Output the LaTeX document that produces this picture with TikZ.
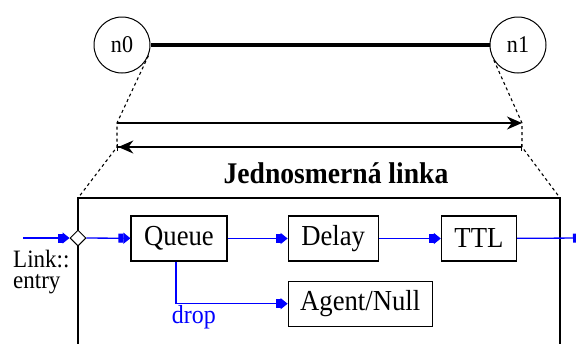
\documentclass[tikz,border=0pt]{standalone}
\usepackage{fontspec}
\setmainfont{Liberation Serif}[FakeStretch=0.92]
\usetikzlibrary{positioning,shapes.geometric,arrows.meta}
\tikzset{
  elem/.style={draw,line width=1.2pt,minimum height=45pt,inner sep=0pt,
    font=\fontsize{29}{29}\selectfont},
  flujo/.style={blue,line width=1.3pt,
    -{Square[length=5pt,width=9pt]Triangle[length=7pt,width=11pt]}},
  nodo/.style={circle,draw,line width=1pt,minimum size=56pt,inner sep=0pt,
    font=\fontsize{24}{24}\selectfont},
  guia/.style={dashed,line width=1.1pt}
}
\begin{document}
\begin{tikzpicture}[x=1pt,y=-1pt]
\useasboundingbox (0,0) rectangle (576,343);
% Nodos
\node[nodo] (n0) at (122,45) {n0};
\node[nodo] (n1) at (518,45) {n1};
\draw[line width=3.2pt] (n0) -- (n1);
% Ampliacion
\coordinate (a1) at (117,123);
\coordinate (b1) at (522,123);
\coordinate (a2) at (117,147);
\coordinate (b2) at (522,147);
\coordinate (c1) at (78,198);
\coordinate (c2) at (560,198);
\draw[guia] (n0.-22) -- (a1) -- (a2) -- (c1);
\draw[guia] (n1.-148) -- (b1) -- (b2) -- (c2);
\draw[line width=1.3pt,-{Stealth[length=15pt,width=13pt]}] (a1) -- (b1);
\draw[line width=1.3pt,{Bar[width=7pt]Stealth[length=15pt,width=13pt]}-{Bar[width=7pt]}]
  (a2) -- (b2);
\node[font=\fontsize{30}{30}\selectfont\bfseries,anchor=base] (titulo) at (336,183)
  {Jednosmerná linka};
% Caja
\draw[line width=1.5pt] (78,350) -- (c1) -- (c2) -- (560,350);
\node[diamond,draw,fill=white,line width=1pt,minimum width=16pt,minimum height=16pt,
  inner sep=0pt] (ent) at (78,238) {};
\node[align=left,anchor=north west,inner sep=0pt,font=\fontsize{25}{21}\selectfont]
  (etiq) at (13,250) {Link::\\entry};
\node[elem,minimum width=96pt] (queue) at (179,238.5) {Queue};
\node[elem,minimum width=90pt,right=60pt of queue] (delay) {Delay};
\node[elem,minimum width=75pt,right=62pt of delay] (ttl) {TTL};
\node[elem,minimum width=144pt,below=19pt of delay.south west,anchor=north west]
  (null) {Agent/Null};
% Flujo
\coordinate (in) at (23,238);
\coordinate (out) at (585,238);
\draw[flujo] (in) -- (ent);
\draw[flujo] (ent) -- (queue);
\draw[flujo] (queue) -- (delay);
\draw[flujo] (delay) -- (ttl);
\draw[flujo] (ttl) -- (out);
\draw[flujo] ([xshift=-3pt]queue.south) |- node[pos=0.58,below,inner sep=1pt,
  font=\fontsize{26}{26}\selectfont] (drop) {drop} (null);
\end{tikzpicture}
\end{document}
